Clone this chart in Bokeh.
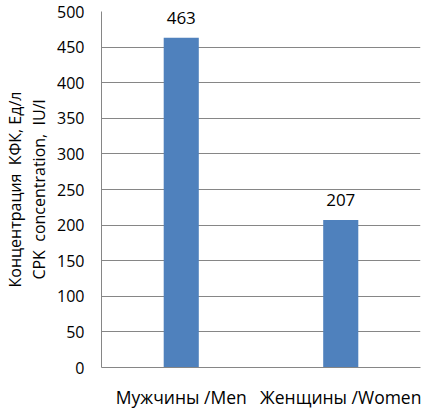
from bokeh.plotting import figure
from bokeh.models import (ColumnDataSource, FactorRange, Range1d, LinearAxis,
                          FixedTicker, LabelSet)
from bokeh.core.properties import value
from bokeh.embed import file_html
from bokeh.resources import INLINE

categories = ["Мужчины /Men", "Женщины /Women"]
values = [463, 207]
value_labels = ["463", "207"]
y_ticks = [0, 50, 100, 150, 200, 250, 300, 350, 400, 450, 500]
title_ru = "Концентрация\u00a0 КФК, Ед/л"
title_en = "CPK\u00a0 concentration,\u00a0 IU/l"

FONT = "Open Sans"
GRID = "#868686"
BAR = "#4F81BD"

src = ColumnDataSource(dict(cat=categories, val=values, lab=value_labels))

p = figure(x_range=FactorRange(*categories, range_padding=0),
           y_range=Range1d(0, 500),
           width=424, height=411, output_backend="svg", toolbar_location=None,
           min_border_left=99, min_border_right=4, min_border_top=11,
           min_border_bottom=42)

p.vbar(x="cat", top="val", width=0.22, source=src, fill_color=BAR, line_color=None)

p.add_layout(LabelSet(x="cat", y="val", text="lab", source=src, text_align="center",
                      text_baseline="alphabetic", y_offset=14,
                      text_font=value(FONT), text_font_size=value("17px"),
                      text_color="black"))

p.outline_line_color = None
p.xgrid.grid_line_color = None
p.ygrid.grid_line_color = GRID
p.ygrid.grid_line_width = 1

ya = p.yaxis[0]
ya.axis_label = title_en
ya.ticker = FixedTicker(ticks=y_ticks)
ya.axis_line_color = GRID
ya.major_tick_out = 0
ya.major_tick_in = 0
ya.minor_tick_out = 0
ya.minor_tick_in = 0
ya.major_label_standoff = 17
ya.major_label_text_font = FONT
ya.major_label_text_font_size = "16px"
ya.major_label_text_color = "black"
ya.axis_label_text_font = FONT
ya.axis_label_text_font_size = "16px"
ya.axis_label_text_font_style = "normal"
ya.axis_label_text_color = "black"
ya.axis_label_standoff = 4

ya2 = LinearAxis(ticker=FixedTicker(ticks=[]), axis_label=title_ru)
ya2.axis_line_color = None
ya2.major_tick_out = 0
ya2.major_tick_in = 0
ya2.minor_tick_out = 0
ya2.minor_tick_in = 0
ya2.axis_label_text_font = FONT
ya2.axis_label_text_font_size = "16px"
ya2.axis_label_text_font_style = "normal"
ya2.axis_label_text_color = "black"
ya2.axis_label_standoff = 0
p.add_layout(ya2, "left")

xa = p.xaxis[0]
xa.axis_label = None
xa.axis_line_color = GRID
xa.major_tick_out = 0
xa.major_tick_in = 0
xa.major_label_standoff = 17
xa.major_label_text_font = FONT
xa.major_label_text_font_size = "17.5px"
xa.major_label_text_color = "black"

open("out.html", "w").write(file_html(p, INLINE))
